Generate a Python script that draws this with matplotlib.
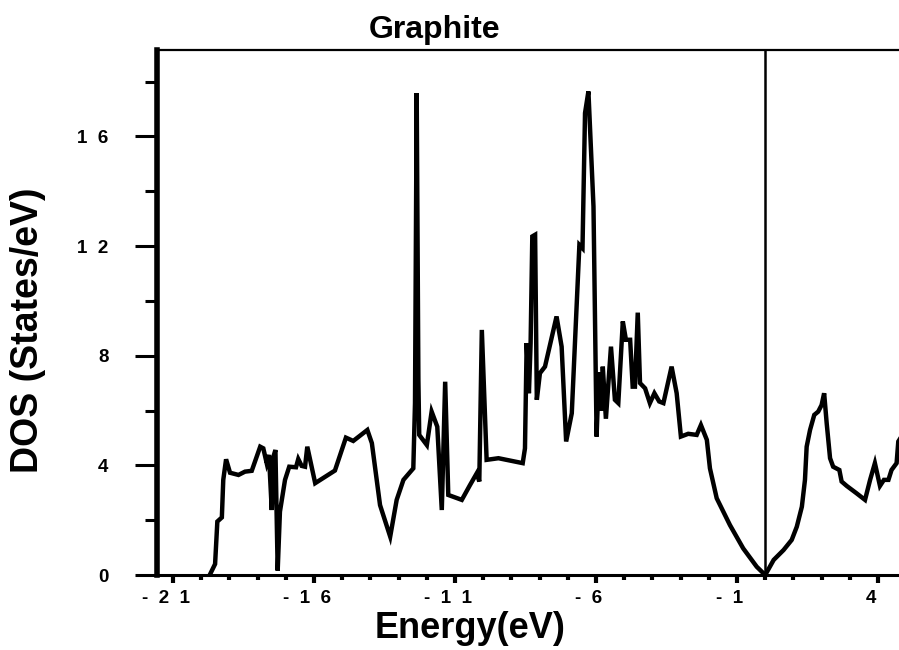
import matplotlib
matplotlib.use("Agg")
import matplotlib.pyplot as plt
import matplotlib.transforms as mtransforms
from matplotlib.ticker import MultipleLocator, FixedLocator, FixedFormatter

energy = [-19.70, -19.51, -19.43, -19.27, -19.22, -19.12, -18.98, -18.68, -18.45, -18.21,
          -17.91, -17.80, -17.68, -17.60, -17.50, -17.44, -17.37, -17.29, -17.21, -17.03,
          -16.88, -16.64, -16.56, -16.44, -16.32, -16.24, -15.96, -15.26, -14.87, -14.61,
          -14.11, -13.95, -13.66, -13.30, -13.07, -12.83, -12.48, -12.42, -12.36, -12.30,
          -12.27, -12.00, -11.83, -11.63, -11.47, -11.35, -11.24, -10.76, -10.47, -10.23,
          -10.14, -10.05, -9.88, -9.46, -8.60, -8.52, -8.46, -8.38, -8.32, -8.26,
          -8.16, -8.10, -7.99, -7.81, -7.40, -7.22, -7.06, -6.86, -6.59, -6.48,
          -6.39, -6.27, -6.09, -5.98, -5.90, -5.82, -5.76, -5.65, -5.47, -5.33,
          -5.21, -5.05, -4.94, -4.79, -4.70, -4.62, -4.52, -4.44, -4.26, -4.09,
          -3.93, -3.76, -3.61, -3.32, -3.14, -2.99, -2.73, -2.43, -2.28, -2.07,
          -1.96, -1.72, -1.25, -0.78, -0.30, 0.00, 0.30, 0.65, 0.94, 1.12,
          1.30, 1.41, 1.47, 1.59, 1.74, 1.88, 2.00, 2.09, 2.18, 2.30,
          2.41, 2.63, 2.71, 2.89, 3.24, 3.54, 3.72, 3.89, 4.07, 4.21,
          4.37, 4.48, 4.66, 4.72, 4.80]
dos = [0.00, 0.40, 1.95, 2.10, 3.47, 4.22, 3.73, 3.65, 3.77, 3.80,
       4.68, 4.62, 4.08, 4.38, 2.37, 4.32, 4.56, 0.16, 2.31, 3.47,
       3.95, 3.93, 4.23, 3.98, 3.95, 4.68, 3.35, 3.81, 5.01, 4.89,
       5.29, 4.81, 2.55, 1.40, 2.74, 3.47, 3.89, 6.27, 17.58, 7.12,
       5.11, 4.74, 5.96, 5.41, 2.37, 7.05, 2.92, 2.74, 3.28, 3.71,
       3.41, 8.94, 4.20, 4.26, 4.08, 4.62, 8.46, 6.63, 8.46, 12.35,
       12.41, 6.39, 7.36, 7.60, 9.43, 8.33, 4.87, 5.90, 12.04, 11.92,
       16.85, 17.64, 13.44, 5.05, 7.40, 6.00, 7.60, 5.70, 8.33, 6.39,
       6.27, 9.25, 8.58, 8.58, 6.87, 6.87, 9.57, 7.00, 6.81, 6.27,
       6.63, 6.33, 6.27, 7.60, 6.63, 5.05, 5.15, 5.11, 5.47, 4.93,
       3.89, 2.80, 1.82, 0.97, 0.30, 0.00, 0.55, 0.91, 1.28, 1.76,
       2.49, 3.47, 4.68, 5.29, 5.84, 5.96, 6.20, 6.63, 5.54, 4.26,
       3.95, 3.83, 3.41, 3.25, 2.98, 2.74, 3.47, 4.08, 3.25, 3.47,
       3.47, 3.83, 4.08, 4.87, 5.00]

x_major = [-21, -16, -11, -6, -1, 4]
x_labels = ["-  2  1", "-  1  6", "-  1  1", "-  6", "-  1", "4"]
y_major = [0, 4, 8, 12, 16]
y_labels = ["0", "4", "8", "1  2", "1  6"]
fermi = 0.0

plt.rcParams['font.family'] = ['Liberation Sans', 'DejaVu Sans']

fig = plt.figure(figsize=(8.99, 6.5), dpi=100)
ax = fig.add_axes([157/899, 1-575/650, 1-157/899, (575-50)/650])

ax.plot(energy, dos, color='black', lw=3.2, solid_joinstyle='miter', clip_on=True)
ax.axvline(fermi, color='black', lw=1.8)

ax.set_xlim(-21.57, 4.745)
ax.set_ylim(0, 19.15)

ax.xaxis.set_major_locator(FixedLocator(x_major))
ax.xaxis.set_major_formatter(FixedFormatter(x_labels))
ax.xaxis.set_minor_locator(MultipleLocator(1))
ax.yaxis.set_major_locator(FixedLocator(y_major))
ax.yaxis.set_major_formatter(FixedFormatter(y_labels))
ax.yaxis.set_minor_locator(MultipleLocator(2))

ax.spines['right'].set_visible(False)
ax.spines['left'].set_linewidth(4)
ax.spines['bottom'].set_linewidth(2.2)
ax.spines['top'].set_linewidth(1.6)

ax.tick_params(axis='x', which='major', direction='out', length=6, width=3, pad=5,
               labelsize=13.5)
ax.tick_params(axis='x', which='minor', direction='out', length=3.5, width=3)
ax.tick_params(axis='y', which='major', direction='out', length=16, width=2.2, pad=19,
               labelsize=13.5)
ax.tick_params(axis='y', which='minor', direction='out', length=9, width=2.2)

shift = mtransforms.ScaledTranslation(-7/100, 0, fig.dpi_scale_trans)
for lab in ax.get_xticklabels():
    lab.set_fontweight('bold')
    lab.set_transform(lab.get_transform() + shift)
for lab in ax.get_yticklabels():
    lab.set_fontweight('bold')

fig.text(435/899, 1-30/650, "Graphite", ha='center', va='center', fontsize=23, fontweight='bold')
fig.text(470/899, 1-628/650, "Energy(eV)", ha='center', va='center', fontsize=26, fontweight='bold')
fig.text(28/899, 1-330/650, "DOS (States/eV)", ha='center', va='center', rotation=90,
         fontsize=27, fontweight='bold')

fig.savefig("out.png", dpi=100)
